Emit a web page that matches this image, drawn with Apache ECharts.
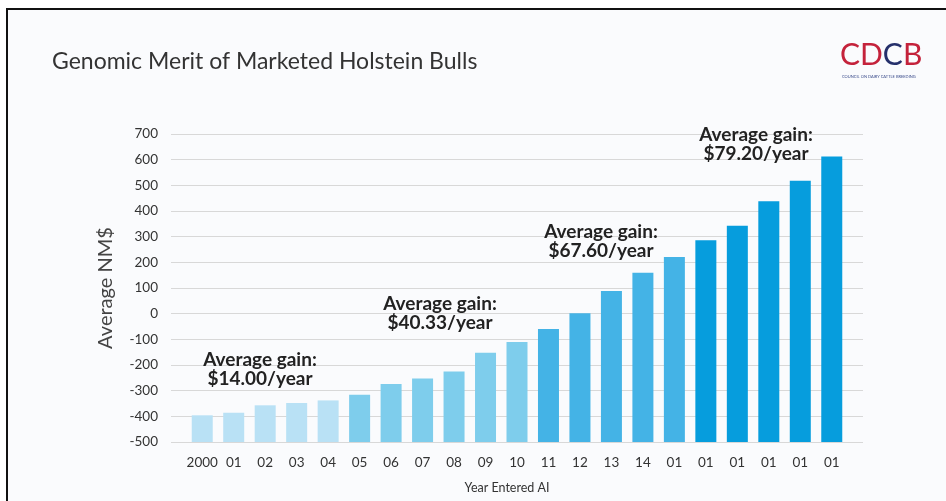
<!DOCTYPE html>
<html>
<head>
<meta charset="utf-8">
<script src="https://cdn.jsdelivr.net/npm/echarts@6/dist/echarts.min.js"></script>
<style>
  html, body { margin: 0; padding: 0; background: #fff; }
  .frame {
    position: absolute; left: 6px; top: 8px; width: 960px; height: 520px;
    background: #fafbfd; border-top: 2px solid #111; border-left: 2px solid #111;
  }
  #chart { position: absolute; left: 0; top: 0; width: 946px; height: 501px; }
</style>
</head>
<body>
<div class="frame"></div>
<div id="chart"></div>
<script>
// year labels as printed under the bars
const years = ['2000', '01', '02', '03', '04', '05', '06', '07', '08', '09', '10',
  '11', '12', '13', '14', '01', '01', '01', '01', '01', '01']
// average NM$ per year
const avgNM = [-396, -386, -357, -348, -338, -316, -274, -253, -225, -152, -110,
  -60, 2, 88, 159, 221, 286, 343, 438, 518, 612]
// which period each bar belongs to (drives colour)
const period = [0, 0, 0, 0, 0, 1, 1, 1, 1, 1, 1, 2, 2, 2, 2, 2, 3, 3, 3, 3, 3]
const periodColors = ['#b9e1f5', '#7ecdec', '#44b3e6', '#069ddd']
const gainLabels = ['$14.00/year', '$40.33/year', '$67.60/year', '$79.20/year']

const textFont = 'Lato, "Noto Sans", sans-serif'

// annotation placement (centre x, top y)
const gainPos = [[260, 350], [440, 294], [601, 222], [756, 125]]

let chart = echarts.init(document.getElementById('chart'), null, { renderer: 'canvas' })

let graphics = [
  {
    type: 'text', left: 52, top: 50,
    style: { text: 'Genomic Merit of Marketed Holstein Bulls', fontSize: 23, fill: '#333', fontFamily: textFont }
  },
  {
    type: 'text', left: 840, top: 40,
    style: {
      text: '{r|CD}{b|C}{r|B}',
      rich: {
        r: { fontSize: 30, fill: '#c4223b', fontFamily: textFont },
        b: { fontSize: 30, fill: '#25306b', fontFamily: textFont }
      }
    }
  },
  {
    type: 'text', left: 842, top: 75,
    style: { text: 'COUNCIL ON DAIRY CATTLE BREEDING', fontSize: 4, fill: '#3a4b8a', fontFamily: textFont }
  }
]
gainLabels.forEach((g, i) => {
  graphics.push({
    type: 'text', x: gainPos[i][0], y: gainPos[i][1], z: 100,
    style: {
      text: 'Average gain:\n' + g, align: 'center', fontSize: 19, fontWeight: 'bold',
      lineHeight: 19, fill: '#222', fontFamily: textFont
    }
  })
})

chart.setOption({
  backgroundColor: 'transparent',
  textStyle: { fontFamily: textFont },
  graphic: graphics,
  grid: [
    { left: 171, right: 83, top: 134, bottom: 59 },
    { left: 186.5, right: 98.5, top: 134, bottom: 59 }
  ],
  xAxis: [
    { type: 'category', gridIndex: 0, data: years, show: false },
    {
      type: 'category', gridIndex: 1, data: years,
      axisLine: { show: false }, axisTick: { show: false },
      axisLabel: { color: '#333', fontSize: 13.5, margin: 14, interval: 0 },
      name: 'Year Entered AI', nameLocation: 'middle', nameGap: 39,
      nameTextStyle: { color: '#333', fontSize: 12.5, padding: [0, 20, 0, 0] }
    }
  ],
  yAxis: [
    {
      type: 'value', gridIndex: 0, min: -500, max: 700, interval: 100,
      axisLine: { show: false }, axisTick: { show: false },
      axisLabel: { color: '#333', fontSize: 13.5, margin: 13 },
      splitLine: { lineStyle: { color: '#d8d8d8', width: 1 } },
      name: 'Average NM$', nameLocation: 'middle', nameGap: 55,
      nameTextStyle: { color: '#444', fontSize: 20 }
    },
    {
      type: 'value', gridIndex: 1, min: -500, max: 700, interval: 100,
      startValue: -500,
      show: false, splitLine: { show: false }
    }
  ],
  series: [
    {
      type: 'bar', xAxisIndex: 1, yAxisIndex: 1,
      barWidth: 21,
      data: avgNM.map((v, i) => ({ value: v, itemStyle: { color: periodColors[period[i]] } })),
      animation: false
    }
  ],
  animation: false
})
</script>
</body>
</html>
